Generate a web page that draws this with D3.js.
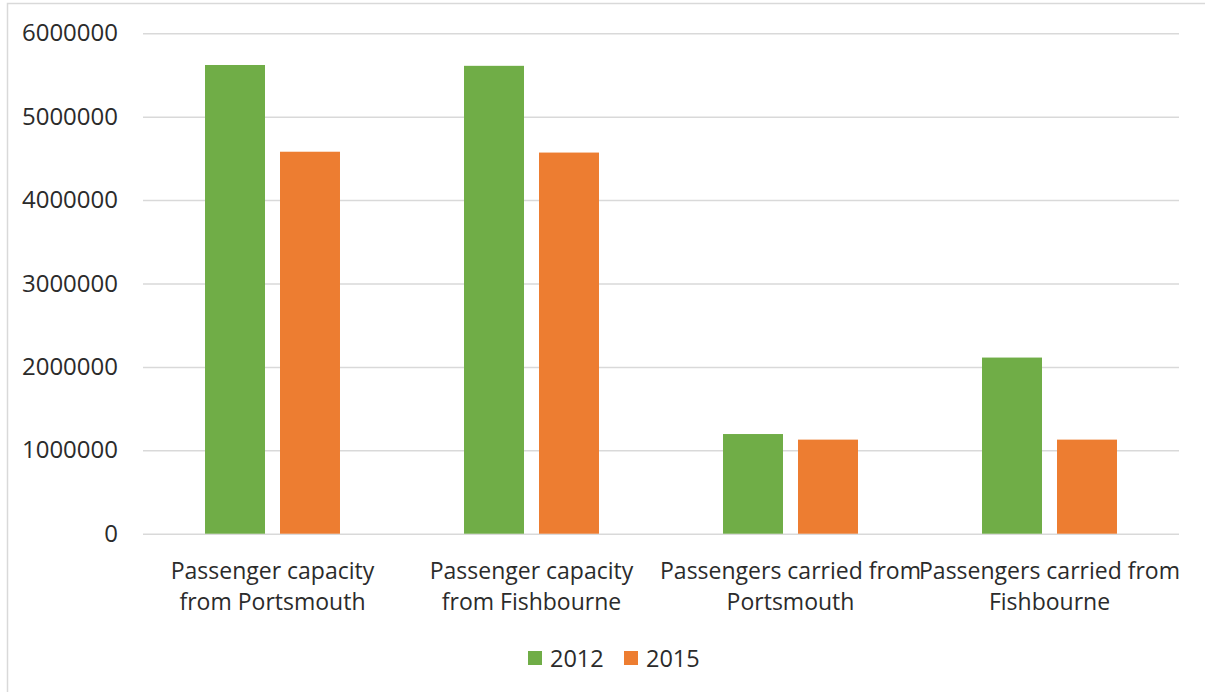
<!DOCTYPE html>
<html>
<head>
<meta charset="utf-8">
<script src="https://cdn.jsdelivr.net/npm/d3@7"></script>
<style>
  html, body { margin: 0; padding: 0; background: #fff; }
  svg { display: block; }
  text { font-family: "Open Sans", sans-serif; fill: #2b2b2b; }
</style>
</head>
<body>
<svg id="chart" width="1205" height="692"></svg>
<script>
const categories = [
  ["Passenger capacity", "from Portsmouth"],
  ["Passenger capacity", "from Fishbourne"],
  ["Passengers carried from", "Portsmouth"],
  ["Passengers carried from", "Fishbourne"]
];
const seriesNames = ["2012", "2015"];
const values2012 = [5620000, 5610000, 1195000, 2112000];
const values2015 = [4580000, 4570000, 1128000, 1128000];
const yTicks = [0, 1000000, 2000000, 3000000, 4000000, 5000000, 6000000];
const colors = ["#70AD47", "#ED7D31"];

const svg = d3.select("#chart");
const W = 1205, H = 692;
const plot = { left: 143, right: 1179, top: 33.3, bottom: 533.7 };

// outer border
svg.append("rect")
  .attr("x", 7.5).attr("y", 3.5)
  .attr("width", W).attr("height", H)
  .attr("fill", "none").attr("stroke", "#d9d9d9").attr("stroke-width", 1.5);

const catIdx = categories.map((d, i) => i);
const x0 = d3.scaleBand().domain(catIdx).range([plot.left, plot.right]).padding(0);
const x1 = d3.scaleBand().domain(seriesNames).range([0, x0.bandwidth()])
  .paddingInner(0.2).paddingOuter(0.827);
const y = d3.scaleLinear().domain([0, 6000000]).range([plot.bottom, plot.top]);

// gridlines
const yAxis = d3.axisLeft(y).tickValues(yTicks).tickFormat(d3.format("d"))
  .tickSize(-(plot.right - plot.left)).tickPadding(25);
const gy = svg.append("g").attr("transform", `translate(${plot.left},0)`).call(yAxis);
gy.select(".domain").remove();
gy.selectAll(".tick line").attr("stroke", "#d9d9d9").attr("stroke-width", 1.5);
gy.selectAll(".tick text")
  .style("font-size", "24px").attr("fill", "#2b2b2b").attr("x", -25);

// bars
const data = catIdx.map(i => ({ i, vals: [values2012[i], values2015[i]] }));
const groups = svg.append("g").selectAll("g").data(data).join("g")
  .attr("transform", d => `translate(${x0(d.i)},0)`);
groups.selectAll("rect").data(d => d.vals.map((v, k) => ({ k, v })))
  .join("rect")
  .attr("x", d => x1(seriesNames[d.k]))
  .attr("width", x1.bandwidth())
  .attr("y", d => y(d.v))
  .attr("height", d => y(0) - y(d.v))
  .attr("fill", d => colors[d.k]);

// category labels
const xl = svg.append("g");
catIdx.forEach(i => {
  const cx = x0(i) + x0.bandwidth() / 2;
  const t = xl.append("text").attr("text-anchor", "middle").style("font-size", "23px");
  categories[i].forEach((line, j) => {
    t.append("tspan").attr("x", cx).attr("y", 579 + j * 30.5).text(line);
  });
});

// legend
const legend = svg.append("g");
const legendItems = [{ x: 528, name: seriesNames[0], c: colors[0] }, { x: 624, name: seriesNames[1], c: colors[1] }];
legendItems.forEach(d => {
  legend.append("rect").attr("x", d.x).attr("y", 651).attr("width", 14).attr("height", 14).attr("fill", d.c);
  legend.append("text").attr("x", d.x + 22).attr("y", 667).style("font-size", "23.5px").text(d.name);
});
</script>
</body>
</html>
